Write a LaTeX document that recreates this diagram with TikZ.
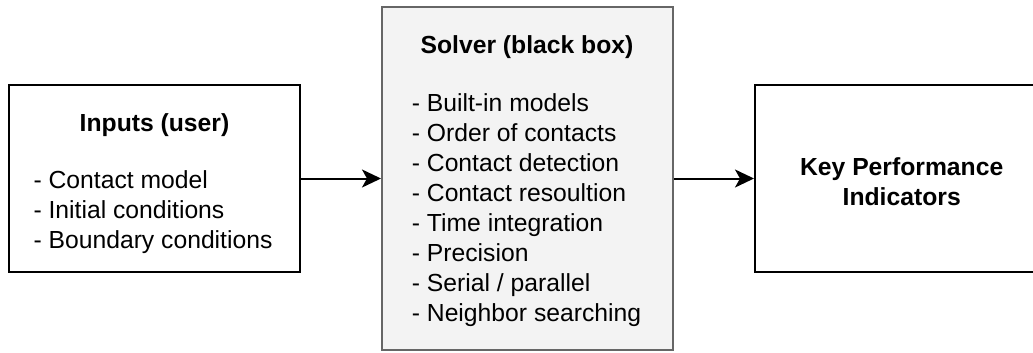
\documentclass[tikz,border=0pt]{standalone}
\usepackage{fontspec}
\setmainfont{Liberation Sans}
\usetikzlibrary{arrows.meta}
\definecolor{solverfill}{HTML}{F3F3F3}
\definecolor{solverdraw}{HTML}{666666}
\tikzset{
  boxstyle/.style={draw=black, line width=2pt, fill=white, inner sep=0pt},
  txt/.style={inner sep=0pt, font=\fontsize{24.7}{30}\selectfont},
  ttl/.style={txt, font=\fontsize{24.7}{30}\selectfont\bfseries},
  arr/.style={line width=2pt, -{Stealth[length=19pt, width=18pt, inset=5pt]}},
}
\begin{document}
\begin{tikzpicture}[x=1pt, y=-1pt]
\useasboundingbox (0,0) rectangle (1033,353);
\clip (0,0) rectangle (1033,353);
\fill[white] (0,0) rectangle (1033,353);
% boxes
\node[boxstyle, minimum width=291pt, minimum height=187pt] (inputs) at (154.5,178.5) {};
\node[boxstyle, draw=solverdraw, fill=solverfill, minimum width=291pt, minimum height=343pt] (solver) at (527.5,178.5) {};
\node[boxstyle, minimum width=293pt, minimum height=187pt] (kpi) at (901.5,178.5) {};
% texts
\node[ttl, anchor=base] (inputsTitle) at (154.5,131.5) {Inputs (user)};
\node[txt, align=left, anchor=center] (inputsList) at (153,212.6) {- Contact model\\- Initial conditions\\- Boundary conditions};
\node[ttl, anchor=base] (solverTitle) at (527,53.3) {Solver (black box)};
\node[txt, align=left, anchor=center] (solverList) at (526.5,210.6) {- Built-in models\\- Order of contacts\\- Contact detection\\- Contact resoultion\\- Time integration\\- Precision\\- Serial / parallel\\- Neighbor searching};
\node[ttl, align=center, anchor=center] (kpiText) at (901.7,182) {Key Performance\\Indicators};
% arrows
\draw[arr] (inputs.east) -- (solver.west);
\draw[arr] (solver.east) -- (kpi.west);
\end{tikzpicture}
\end{document}
